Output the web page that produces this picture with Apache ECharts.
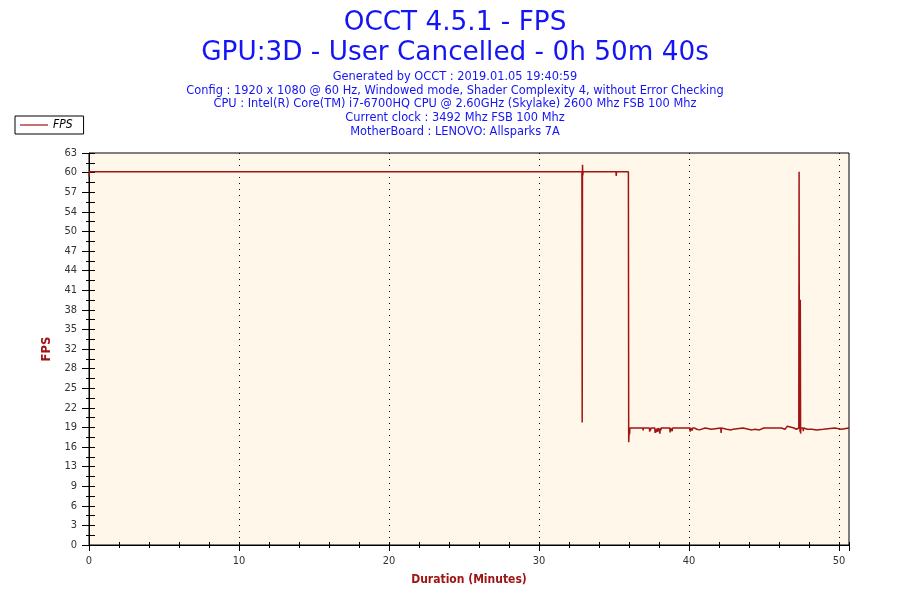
<!DOCTYPE html>
<html>
<head>
<meta charset="utf-8">
<title>OCCT 4.5.1 - FPS</title>
<script src="https://cdn.jsdelivr.net/npm/echarts@6/dist/echarts.min.js"></script>
<style>
  html, body { margin: 0; padding: 0; background: #ffffff; }
  #chart { width: 900px; height: 600px; }
</style>
</head>
<body>
<div id="chart"></div>
<script>
// ======================
// DATA (minutes, fps)
// ======================
const titleLines = ["OCCT 4.5.1 - FPS", "GPU:3D - User Cancelled - 0h 50m 40s"];
const infoLines = [
    "Generated by OCCT : 2019.01.05 19:40:59",
    "Config : 1920 x 1080 @ 60 Hz, Windowed mode, Shader Complexity 4, without Error Checking",
    "CPU : Intel(R) Core(TM) i7-6700HQ CPU @ 2.60GHz (Skylake) 2600 Mhz FSB 100 Mhz",
    "Current clock : 3492 Mhz FSB 100 Mhz",
    "MotherBoard : LENOVO: Allsparks 7A"
];

const durationMax = 50.667;   // 50m 40s
const fpsMax = 63;
const fpsStep = 3.15;

// first part, vsync 60 fps
const highPhase = [
    [0.00, 59.2], [0.03, 60.0], [0.78, 60.0], [0.80, 60.3], [0.82, 60.0],
    [32.86, 60.0], [32.88, 19.7], [32.90, 61.1], [32.92, 59.4], [32.94, 60.0],
    [33.23, 60.0], [33.25, 60.3], [33.27, 60.0], [34.20, 60.0], [34.22, 60.3],
    [34.24, 60.0], [34.45, 60.0], [34.47, 60.3], [34.49, 60.0], [35.13, 60.0],
    [35.15, 59.3], [35.17, 60.0], [35.96, 60.0]
];

// second part, ~19 fps
const lowPhase = [
    [35.98, 16.5], [36.00, 17.6], [36.02, 18.3], [36.04, 17.8], [36.06, 18.8],
    [36.40, 18.8], [36.42, 18.5], [36.44, 18.8], [36.50, 18.6], [36.52, 18.8],
    [36.92, 18.8], [36.94, 18.4], [36.96, 18.8], [37.04, 18.5], [37.06, 18.8],
    [37.36, 18.8], [37.38, 18.2], [37.40, 18.8], [37.44, 18.4], [37.46, 18.8],
    [37.72, 18.8], [37.74, 18.0], [37.76, 18.6], [37.80, 18.1], [37.84, 18.7],
    [37.90, 18.2], [37.94, 18.8], [38.02, 18.3], [38.06, 17.9], [38.08, 18.8],
    [38.12, 18.4], [38.14, 18.8], [38.72, 18.8], [38.74, 18.1], [38.76, 18.8],
    [38.88, 18.3], [38.90, 18.8], [39.30, 18.8], [39.32, 18.6], [39.34, 18.8],
    [40.06, 18.8], [40.08, 18.2], [40.10, 18.8], [40.22, 18.4], [40.24, 18.8],
    [40.36, 18.5], [40.38, 18.8], [40.52, 18.6], [40.54, 18.8], [40.70, 18.5],
    [40.72, 18.8], [41.08, 18.8], [41.10, 18.5], [41.12, 18.8], [41.50, 18.6],
    [41.52, 18.8], [42.12, 18.8], [42.14, 18.0], [42.16, 18.8], [42.52, 18.6],
    [42.54, 18.8], [42.80, 18.5], [42.82, 18.8], [42.94, 18.6], [42.96, 18.8],
    [43.60, 18.8], [43.62, 18.6], [43.64, 18.8], [43.96, 18.6], [43.98, 18.8],
    [44.20, 18.5], [44.22, 18.8], [44.40, 18.6], [44.42, 18.8], [44.70, 18.5],
    [44.72, 18.8], [44.98, 18.8], [45.00, 19.1], [45.02, 18.6], [45.04, 18.8],
    [46.16, 18.8], [46.18, 19.1], [46.20, 18.8], [46.40, 18.6], [46.42, 18.8],
    [46.56, 19.1], [46.58, 18.8], [47.00, 18.8], [47.02, 18.5], [47.04, 18.8],
    [47.16, 18.6], [47.18, 18.8], [47.32, 18.8], [47.34, 60.0], [47.36, 18.8],
    [47.38, 39.4], [47.40, 18.2], [47.42, 39.4], [47.44, 17.9], [47.46, 18.8],
    [47.60, 18.8], [47.62, 18.3], [47.64, 18.8], [47.90, 18.6], [47.92, 18.8],
    [48.20, 18.6], [48.22, 18.8], [48.50, 18.5], [48.52, 18.8], [48.94, 18.6],
    [48.96, 18.8], [49.72, 18.8], [49.74, 18.6], [49.76, 18.8], [50.16, 18.6],
    [50.18, 18.8], [50.667, 18.8]
];

// ======================
// STYLE
// ======================
const FONT = "'DejaVu Sans', sans-serif";
const FONT_NARROW = "'DejaVu Sans Condensed', 'DejaVu Sans', sans-serif";
const RED = "#a01414";
const BLUE = "#1414f5";
const PLOT_BG = "#fff8ea";

const chart = echarts.init(document.getElementById("chart"));

chart.setOption({
    animation: false,
    backgroundColor: "#ffffff",
    textStyle: { fontFamily: FONT },
    title: [
        {
            text: titleLines.join("\n"),
            left: "50%",
            top: 3,
            textAlign: "center",
            textStyle: {
                color: BLUE, fontSize: 26.3, fontWeight: "normal",
                lineHeight: 30, fontFamily: FONT
            }
        },
        {
            text: infoLines.join("\n"),
            left: "50%",
            top: 65,
            textAlign: "center",
            textStyle: {
                color: BLUE, fontSize: 11.4, fontWeight: "normal",
                lineHeight: 13.8, fontFamily: FONT
            }
        }
    ],
    legend: {
        data: [{ name: "FPS", icon: "rect" }],
        left: 15,
        top: 116,
        orient: "vertical",
        padding: [3, 11, 3, 5],
        itemWidth: 28,
        itemHeight: 1.2,
        itemGap: 0,
        borderColor: "#000",
        borderWidth: 1,
        borderRadius: 0,
        textStyle: { fontStyle: "italic", fontSize: 12, color: "#000", fontFamily: FONT_NARROW }
    },
    grid: {
        left: 89,
        right: 51,
        top: 153,
        bottom: 55,
        show: true,
        backgroundColor: PLOT_BG,
        borderColor: "#000",
        borderWidth: 1
    },
    xAxis: [
        {
            // main axis: labels, outer ticks
            type: "value",
            position: "bottom",
            min: 0,
            max: durationMax,
            interval: 2,
            name: "Duration (Minutes)",
            nameLocation: "middle",
            nameGap: 29,
            nameTextStyle: { color: RED, fontWeight: "bold", fontSize: 12, fontFamily: FONT_NARROW },
            axisLine: { show: true, lineStyle: { color: "#000", width: 1 } },
            axisTick: { show: true, length: 3, lineStyle: { color: "#000" } },
            axisLabel: {
                color: "#333", fontSize: 11, margin: 11, showMaxLabel: false,
                fontFamily: FONT_NARROW,
                formatter: v => (Math.round(v) % 10 === 0 ? String(Math.round(v)) : "")
            },
            splitLine: { show: false }
        },
        {
            // dotted grid every 10 minutes
            type: "value",
            position: "bottom",
            min: 0,
            max: durationMax,
            interval: 10,
            axisLine: { show: false },
            axisTick: { show: true, length: 6, lineStyle: { color: "#000" } },
            axisLabel: { show: false },
            splitLine: {
                show: true, showMinLine: false, showMaxLine: false,
                lineStyle: { color: "#000", width: 1, type: [1, 5] }
            }
        },
        {
            // inner ticks
            type: "value",
            position: "bottom",
            min: 0,
            max: durationMax,
            interval: 2,
            axisLine: { show: false },
            axisTick: { show: true, inside: true, length: 3, lineStyle: { color: "#000" } },
            axisLabel: { show: false },
            splitLine: { show: false }
        }
    ],
    yAxis: [
        {
            type: "value",
            position: "left",
            min: 0,
            max: fpsMax,
            interval: fpsStep,
            name: "FPS",
            nameLocation: "middle",
            nameGap: 28,
            nameTextStyle: { color: RED, fontWeight: "bold", fontSize: 13, fontFamily: FONT_NARROW },
            axisLine: { show: true, lineStyle: { color: "#000", width: 1 } },
            axisTick: { show: true, length: 7, lineStyle: { color: "#000" } },
            minorTick: { show: true, splitNumber: 2, length: 3, lineStyle: { color: "#000" } },
            axisLabel: {
                color: "#333", fontSize: 11, margin: 12, fontFamily: FONT_NARROW,
                formatter: v => String(Math.round(v))
            },
            splitLine: { show: false },
            minorSplitLine: { show: false }
        },
        {
            type: "value",
            position: "left",
            min: 0,
            max: fpsMax,
            interval: fpsStep,
            axisLine: { show: false },
            axisTick: { show: true, inside: true, length: 6, lineStyle: { color: "#000" } },
            minorTick: { show: true, splitNumber: 2, length: 6, lineStyle: { color: "#000" } },
            axisLabel: { show: false },
            splitLine: { show: false }
        }
    ],
    series: [{
        name: "FPS",
        type: "line",
        xAxisIndex: 0,
        yAxisIndex: 0,
        data: highPhase.concat(lowPhase),
        showSymbol: false,
        symbol: "none",
        color: RED,
        lineStyle: { color: RED, width: 1.5 },
        z: 5
    }]
});
</script>
</body>
</html>
